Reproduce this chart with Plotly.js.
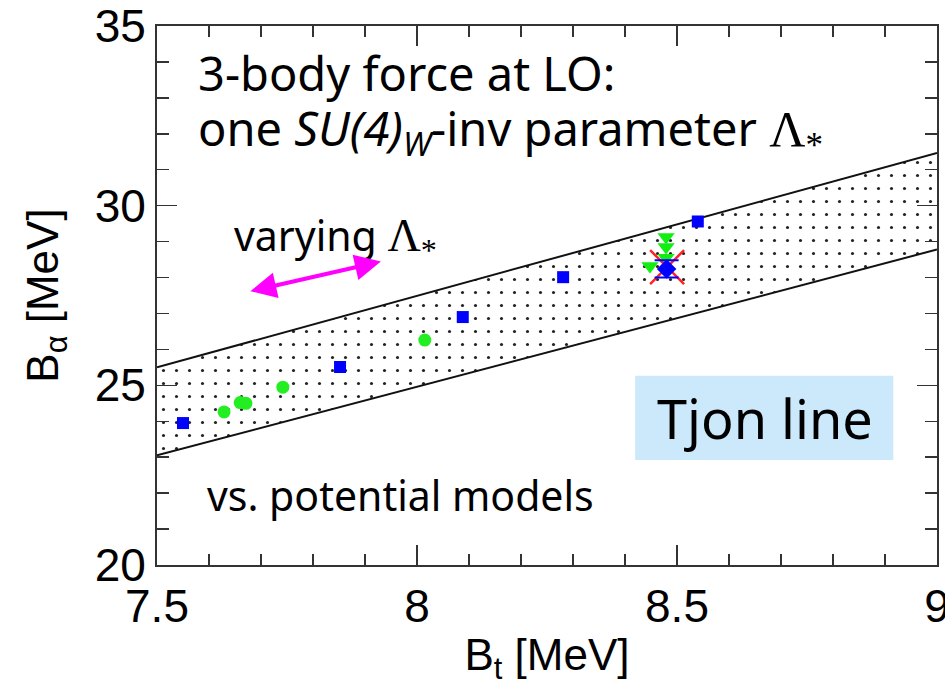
<!DOCTYPE html>
<html>
<head>
<meta charset="utf-8">
<script src="https://cdn.plot.ly/plotly-3.0.1.min.js"></script>
<style>html,body{margin:0;padding:0;background:#fff;}#chart{width:945px;height:693px;}</style>
</head>
<body>
<div id="chart"></div>
<script>
// Band (Tjon band) edges
const bandX = [7.5, 9.0];
const bandUpper = [25.5, 31.47];
const bandLower = [23.05, 28.78];

// Blue squares
const sqX = [7.55, 7.852, 8.088, 8.281, 8.540];
const sqY = [23.95, 25.51, 26.90, 28.01, 29.56];

// Green circles
const circX = [7.629, 7.660, 7.671, 7.742, 8.015];
const circY = [24.26, 24.52, 24.50, 24.95, 26.26];

// Green down-triangles
const triX = [8.479, 8.479, 8.479, 8.448];
const triY = [29.13, 28.85, 28.55, 28.32];

// Red cross
const crossX = [8.481];
const crossY = [28.29];

// Blue diamond with error bar
const diaX = [8.480];
const diaY = [28.24];
const diaErr = [0.24];

const traces = [
  {x: bandX, y: bandLower, mode: 'lines', line: {color: '#111', width: 2}, hoverinfo: 'skip', showlegend: false},
  {x: bandX, y: bandUpper, mode: 'lines', line: {color: '#111', width: 2}, fill: 'tonexty',
   fillcolor: 'rgba(255,255,255,0)',
   fillpattern: {shape: '.', fgcolor: '#222', bgcolor: 'rgba(255,255,255,0)', size: 13, solidity: 0.045},
   hoverinfo: 'skip', showlegend: false},
  {x: sqX, y: sqY, mode: 'markers', marker: {symbol: 'square', size: 12, color: '#0000ff'}, showlegend: false},
  {x: circX, y: circY, mode: 'markers', marker: {symbol: 'circle', size: 13, color: '#22ee22'}, showlegend: false},
  {x: triX, y: triY, mode: 'markers', marker: {symbol: 'triangle-down', size: 15, color: '#11ee11'}, showlegend: false},
  {x: crossX, y: crossY, mode: 'markers', marker: {symbol: 'x-thin', size: 34, color: '#ff2222', line: {color: '#ff2222', width: 2.5}}, showlegend: false},
  {x: diaX, y: diaY, mode: 'markers', marker: {symbol: 'diamond', size: 15, color: '#0000ff'},
   error_y: {type: 'data', array: diaErr, visible: true, color: '#0000ff', thickness: 2, width: 12}, showlegend: false}
];

const comic = '"Comic Sans MS", "Noto Sans", sans-serif';
const axisFont = {family: 'Liberation Sans, Arial, sans-serif', size: 46, color: '#000'};
const titleFont = {family: 'Liberation Sans, Arial, sans-serif', size: 44, color: '#000'};

const layout = {
  width: 945, height: 693,
  margin: {l: 157, r: 8, t: 26, b: 128},
  paper_bgcolor: '#fff', plot_bgcolor: '#fff',
  showlegend: false,
  xaxis: {
    range: [7.5, 9], tickvals: [7.5, 8, 8.5, 9], ticktext: ['7.5', '8', '8.5', '9'],
    ticklabeloverflow: 'allow',
    ticks: 'inside', ticklen: 20, tickwidth: 1.5, tickcolor: '#333',
    minor: {dtick: 0.1, ticks: 'inside', ticklen: 11, tickwidth: 1.5, tickcolor: '#333'},
    showline: true, linecolor: '#333', linewidth: 2, mirror: 'ticks',
    showgrid: false, zeroline: false,
    tickfont: axisFont,
    title: {text: 'B<sub>t</sub> [MeV]', font: titleFont, standoff: 8}
  },
  yaxis: {
    range: [20, 35], tickvals: [20, 25, 30, 35], ticktext: ['20', '25', '30', '35'],
    ticklabeloverflow: 'allow',
    ticks: 'inside', ticklen: 20, tickwidth: 1.5, tickcolor: '#333',
    minor: {dtick: 1, ticks: 'inside', ticklen: 12, tickwidth: 1.5, tickcolor: '#333'},
    showline: true, linecolor: '#333', linewidth: 2, mirror: 'ticks',
    showgrid: false, zeroline: false,
    tickfont: axisFont,
    title: {text: 'B<sub>α</sub> [MeV]', font: titleFont, standoff: 22}
  },
  shapes: [
    {type: 'rect', xref: 'paper', yref: 'paper', x0: 0.613, x1: 0.944, y0: 0.195, y1: 0.351,
     fillcolor: '#cbe9fb', line: {width: 0}, layer: 'below'}
  ],
  annotations: [
    {xref: 'paper', yref: 'paper', x: 0.05, y: 0.913, xanchor: 'left', yanchor: 'middle', showarrow: false,
     text: '3-body force at LO:', font: {family: comic, size: 47, color: '#000'}},
    {xref: 'paper', yref: 'paper', x: 0.05, y: 0.805, xanchor: 'left', yanchor: 'middle', showarrow: false,
     text: 'one <i>SU(4)<sub>W</sub></i>-inv parameter <span style="font-family:Liberation Serif,serif;font-size:50px">Λ<sub>*</sub></span>',
     font: {family: comic, size: 47, color: '#000'}},
    {xref: 'paper', yref: 'paper', x: 0.096, y: 0.608, xanchor: 'left', yanchor: 'middle', showarrow: false,
     text: 'varying <span style="font-family:Liberation Serif,serif;font-size:46px">Λ<sub>*</sub></span>',
     font: {family: comic, size: 41, color: '#000'}},
    {xref: 'paper', yref: 'paper', x: 0.287, y: 0.563, ax: -132, ay: 30, showarrow: true,
     arrowside: 'end+start', arrowhead: 2, arrowsize: 1.3, arrowwidth: 4, arrowcolor: '#ff00ff', text: ''},
    {xref: 'paper', yref: 'paper', x: 0.78, y: 0.273, xanchor: 'center', yanchor: 'middle', showarrow: false,
     text: 'Tjon line', font: {family: comic, size: 54, color: '#000'}},
    {xref: 'paper', yref: 'paper', x: 0.061, y: 0.130, xanchor: 'left', yanchor: 'middle', showarrow: false,
     text: 'vs. potential models', font: {family: comic, size: 41, color: '#000'}}
  ]
};

Plotly.newPlot('chart', traces, layout, {displayModeBar: false, staticPlot: true});
</script>
</body>
</html>
